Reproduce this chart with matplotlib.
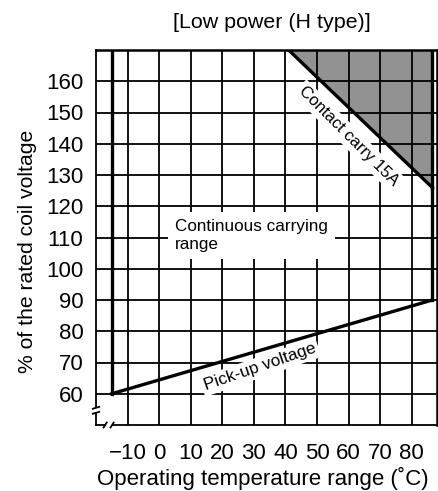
import matplotlib
matplotlib.use("Agg")
import matplotlib.pyplot as plt

plt.rcParams["font.family"] = ["Liberation Sans", "DejaVu Sans"]

# grid ticks
temp_ticks = [-10, 0, 10, 20, 30, 40, 50, 60, 70, 80]
volt_ticks = [60, 70, 80, 90, 100, 110, 120, 130, 140, 150, 160]

# range boundaries
low_temp = -15
high_temp = 86.5
pickup_temp = [-15, 86.5]
pickup_volt = [60, 90]
carry_temp = [41, 86.5]
carry_volt = [170, 126]
top_volt = 170

fig = plt.figure(figsize=(4.39, 4.91), dpi=100)
ax = fig.add_axes([96 / 439, 1 - 425 / 491, 341 / 439, 375 / 491])
ax.set_xlim(-20, 88)
ax.set_ylim(50, 170)

ax.set_xticks(temp_ticks)
ax.set_yticks(volt_ticks)
ax.tick_params(length=0, labelsize=16)
ax.tick_params(axis="x", pad=13)
ax.tick_params(axis="y", pad=9)
ax.grid(True, color="black", linewidth=1.3, zorder=1)
ax.set_axisbelow(False)

for s in ["left", "bottom"]:
    ax.spines[s].set_visible(False)
for s in ["top", "right"]:
    ax.spines[s].set_linewidth(1.8)

# shaded area above contact carry limit
ax.fill_between(carry_temp + [high_temp], [top_volt] * 3,
                carry_volt + [carry_volt[-1]], color="#929292", zorder=0.5,
                linewidth=0)

# broken left and bottom axis lines
lw = 1.3
ax.plot([-20, -20], [170, 55.8], color="black", lw=lw, clip_on=False, zorder=3)
ax.plot([-20, -20], [53.6, 50], color="black", lw=lw, clip_on=False, zorder=3)
ax.plot([-21, -19], [55.2, 55.8], color="black", lw=lw, clip_on=False, zorder=3)
ax.plot([-21, -19], [53.6, 54.2], color="black", lw=lw, clip_on=False, zorder=3)
ax.plot([-20, -17.2], [50, 50], color="black", lw=lw, clip_on=False, zorder=3)
ax.plot([-14.6, 88], [50, 50], color="black", lw=lw, clip_on=False, zorder=3)
ax.plot([-17.6, -16.6], [49.2, 50.8], color="black", lw=lw, clip_on=False, zorder=3)
ax.plot([-15.4, -14.4], [49.2, 50.8], color="black", lw=lw, clip_on=False, zorder=3)
# hide grid between break marks
ax.plot([-16.9, -15.1], [50, 50], color="white", lw=2.5, clip_on=False, zorder=2.5)

# operating range outline
thick = 2.4
ax.plot([low_temp, low_temp], [pickup_volt[0], top_volt], color="black", lw=thick, zorder=4)
ax.plot(pickup_temp, pickup_volt, color="black", lw=thick, zorder=4)
ax.plot([high_temp, high_temp], [pickup_volt[1], carry_volt[1]], color="black", lw=thick, zorder=4)
ax.plot([high_temp, high_temp], [carry_volt[1], top_volt], color="black", lw=thick, zorder=4)
ax.plot(carry_temp, carry_volt, color="black", lw=thick, zorder=4)

box = dict(facecolor="white", edgecolor="none", pad=2)
ax.text(5, 110.5, "Continuous carrying\nrange", fontsize=12.3, ha="left",
        va="center", linespacing=1.25, zorder=3,
        bbox=dict(facecolor="white", edgecolor="none", pad=5))
ax.text(60, 142.5, "Contact carry 15A", fontsize=12, rotation=-45,
        ha="center", va="center", zorder=3, bbox=box)
ax.text(32, 68.5, "Pick-up voltage", fontsize=12.3, rotation=19,
        ha="center", va="center", zorder=3, bbox=box)

fig.text(272 / 439, 1 - 22 / 491, "[Low power (H type)]", fontsize=15.4,
         ha="center", va="center")
fig.text(28 / 439, 1 - 251 / 491, "% of the rated coil voltage", fontsize=15.2,
         ha="center", va="center", rotation=90)
fig.text(263 / 439, 1 - 478 / 491, "Operating temperature range (\u02daC)",
         fontsize=16, ha="center", va="center")

fig.savefig("out.png", dpi=100)
